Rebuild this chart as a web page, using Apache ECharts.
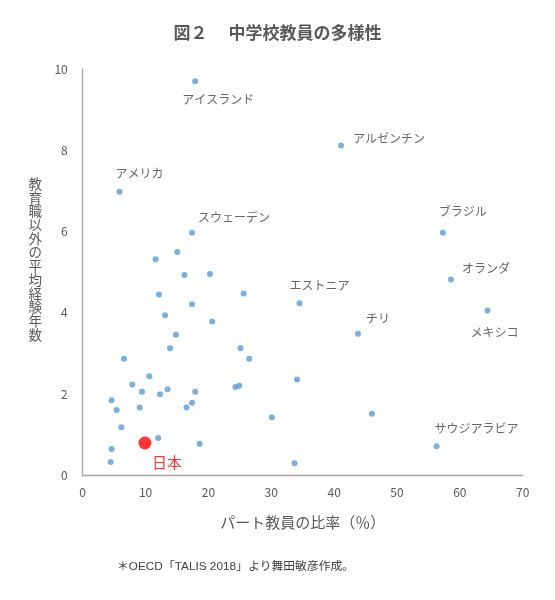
<!DOCTYPE html>
<html><head><meta charset="utf-8">
<script src="https://cdn.jsdelivr.net/npm/echarts@6/dist/echarts.min.js"></script>
<style>html,body{margin:0;padding:0;background:#fff}#c{width:555px;height:600px}</style>
</head><body><div id="c"></div>
<script>
// ---- data ----
const countryNames = ['アイスランド','アメリカ','スウェーデン','アルゼンチン','ブラジル','オランダ','エストニア','チリ','メキシコ','サウジアラビア'];
const countryX = [17.9, 5.85, 17.4, 41.1, 57.3, 58.6, 34.5, 43.8, 64.4, 56.3];
const countryY = [9.70, 6.98, 5.97, 8.12, 5.97, 4.82, 4.24, 3.49, 4.06, 0.72];
const otherX = [15.05,11.6,16.2,20.25,12.14,25.6,17.4,13.1,20.6,14.84,13.9,25.1,26.5,6.57,10.6,7.9,34.1,9.43,13.5,12.3,17.9,24.3,24.9,4.6,17.4,16.5,5.4,9.07,30.1,6.15,12.0,18.6,4.6,4.45,33.7,46.0];
const otherY = [5.50,5.32,4.93,4.96,4.45,4.48,4.21,3.94,3.79,3.46,3.13,3.13,2.87,2.87,2.44,2.24,2.36,2.06,2.12,2.00,2.06,2.18,2.21,1.85,1.79,1.67,1.61,1.67,1.43,1.19,0.92,0.78,0.65,0.33,0.30,1.52];
const japanName = '日本';
const japanX = [9.9];
const japanY = [0.8];
const xTicks = [0,10,20,30,40,50,60,70];
const yTicks = [0,2,4,6,8,10];
const titleText = '図２　 中学校教員の多様性';
const xName = 'パート教員の比率（％）';
const yName = '教育職以外の平均経験年数';
const noteText = '＊OECD「TALIS 2018」より舞田敏彦作成。';

// ---- label layout (pixel offsets of label centre from point) ----
const labelOffsets = {
  'アイスランド':[23,18],'アメリカ':[20,-18],'スウェーデン':[42,-15],'アルゼンチン':[48,-7],
  'ブラジル':[20,-21],'オランダ':[35,-11],'エストニア':[20,-18],'チリ':[20,-15],
  'メキシコ':[7,22],'サウジアラビア':[40,-18]
};

const FONT = '"Noto Sans CJK JP", "Noto Sans", sans-serif';
const gray = '#595959';
const blue = '#5B9BD5';

const countryData = countryNames.map((n,i)=>({
  name:n, value:[countryX[i],countryY[i]],
  label:{show:true, formatter:n, position:'inside', align:'center', verticalAlign:'middle',
    offset:labelOffsets[n], color:'#404040', fontSize:12, fontFamily:FONT}
}));
const otherData = otherX.map((x,i)=>[x,otherY[i]]);
const japanData = japanX.map((x,i)=>({
  name:japanName, value:[x,japanY[i]],
  label:{show:true, formatter:japanName, position:'inside', align:'center', verticalAlign:'middle',
    offset:[22,19], color:'#FF0000', fontSize:15, fontFamily:FONT}
}));

const chart = echarts.init(document.getElementById('c'), null, {renderer:'canvas'});
chart.setOption({
  backgroundColor:'#fff',
  animation:false,
  title:{text:titleText, left:'center', top:19,
    textStyle:{fontSize:17, fontWeight:'bold', color:gray, fontFamily:FONT}},
  grid:{left:82.7, right:32.3, top:69, bottom:124.5, containLabel:false},
  xAxis:{type:'value', min:xTicks[0], max:xTicks[xTicks.length-1], interval:10,
    name:xName, nameLocation:'middle', nameGap:39,
    nameTextStyle:{fontSize:15, color:gray, fontFamily:FONT},
    axisLine:{show:true, lineStyle:{color:'#a6a6a6', width:1.3}},
    axisTick:{show:false}, splitLine:{show:false},
    axisLabel:{color:gray, fontSize:12, margin:11, fontFamily:FONT}},
  yAxis:{type:'value', min:yTicks[0], max:yTicks[yTicks.length-1], interval:2,
    axisLine:{show:true, lineStyle:{color:'#a6a6a6', width:1.3}},
    axisTick:{show:false}, splitLine:{show:false},
    axisLabel:{color:gray, fontSize:12, margin:15, fontFamily:FONT}},
  graphic:[
    {type:'text', left:28.5, top:177,
      style:{text:yName.split('').join('\n'), fontSize:13.5, lineHeight:13.7, fill:gray, fontFamily:FONT}},
    {type:'text', left:117, top:561,
      style:{text:noteText, fontSize:11.8, fill:'#404040', fontFamily:'"Liberation Sans", "Noto Sans CJK JP", sans-serif'}}],
  series:[
    {type:'scatter', data:otherData, symbolSize:6, itemStyle:{color:blue}},
    {type:'scatter', data:countryData, symbolSize:6, itemStyle:{color:blue}},
    {type:'scatter', data:japanData, symbolSize:13, itemStyle:{color:'#FF0000'}, z:5}
  ]
});
</script></body></html>
